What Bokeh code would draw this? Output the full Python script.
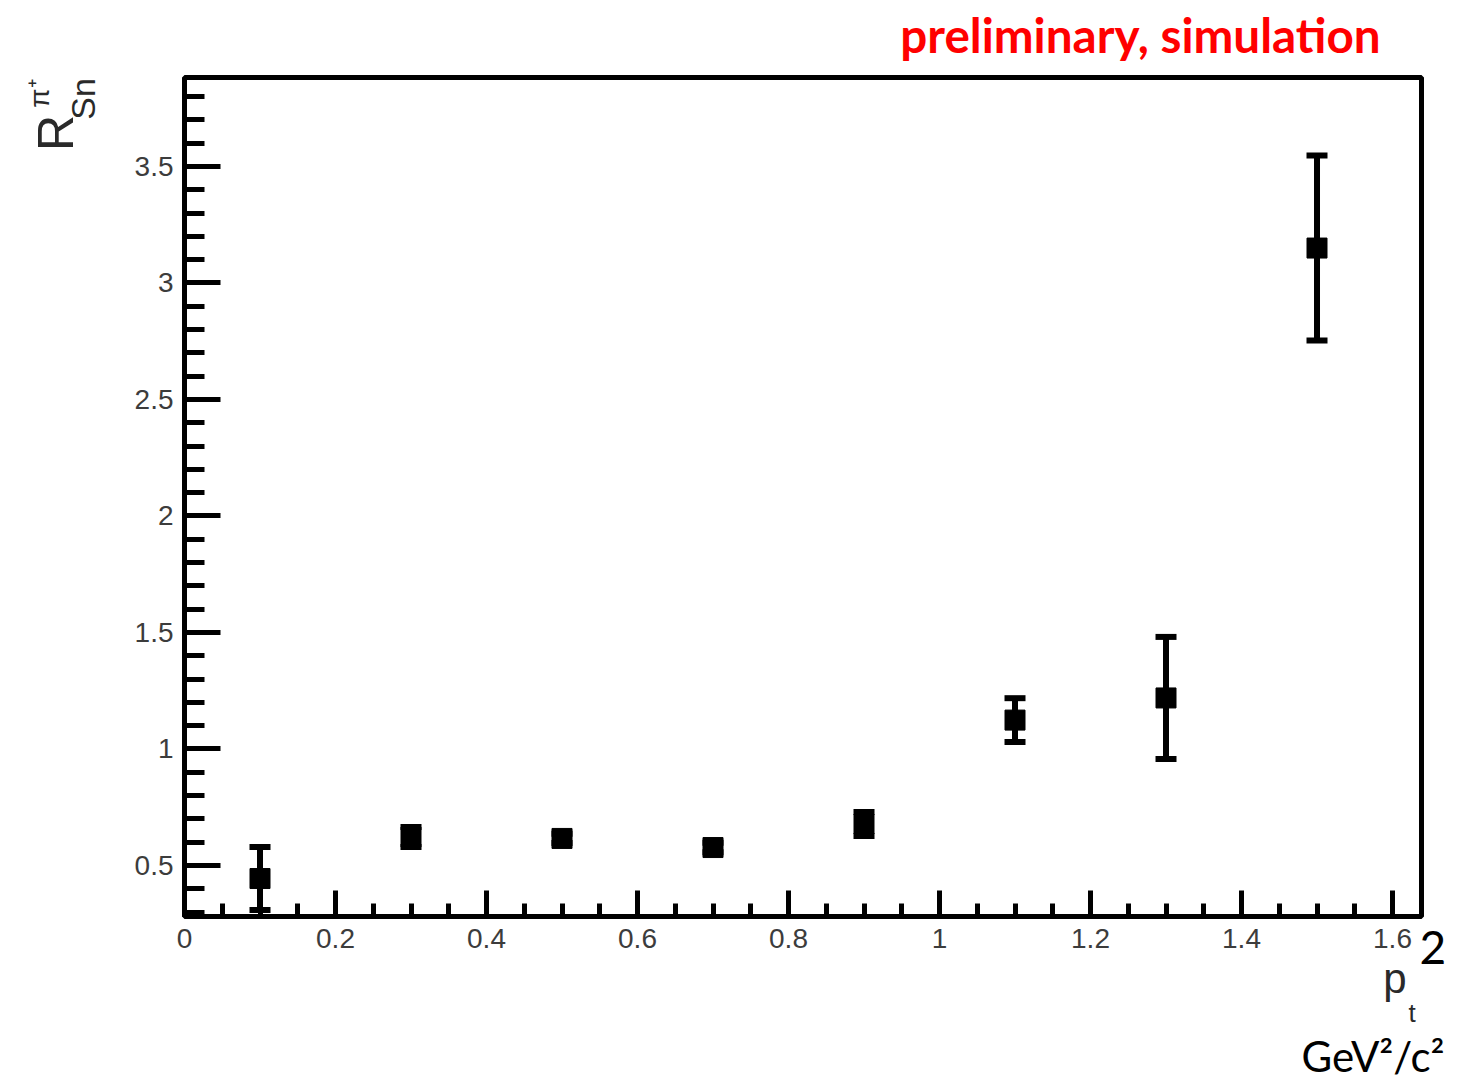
import json
from bokeh.plotting import figure
from bokeh.models import (ColumnDataSource, Range1d, SingleIntervalTicker, CustomJSTickFormatter,
                          Whisker, TeeHead, LinearAxis, FixedTicker)
from bokeh.embed import file_html
from bokeh.resources import INLINE

# ---- data ----
pt2 = [0.1, 0.3, 0.5, 0.7, 0.9, 1.1, 1.3, 1.5]
ratio = [0.444, 0.622, 0.616, 0.577, 0.678, 1.124, 1.219, 3.150]
err = [0.135, 0.043, 0.02, 0.02, 0.052, 0.094, 0.262, 0.397]

x_tick_interval = 0.2
y_tick_interval = 0.5

src = ColumnDataSource(dict(
    x=pt2, y=ratio,
    upper=[r + e for r, e in zip(ratio, err)],
    lower=[r - e for r, e in zip(ratio, err)],
))

FW, FH = 1237, 839
p = figure(frame_width=FW, frame_height=FH, output_backend="svg", toolbar_location=None,
           x_range=Range1d(0, 1.6384), y_range=Range1d(0.281, 3.882),
           min_border_left=184, min_border_right=54, min_border_top=77, min_border_bottom=160)
p.background_fill_color = "white"
p.border_fill_color = "white"
p.outline_line_color = "black"
p.outline_line_width = 5
p.grid.visible = False
p.title.text = ""

fmt = CustomJSTickFormatter(code="return Number(tick.toFixed(1)).toString();")
p.xaxis.ticker = SingleIntervalTicker(interval=x_tick_interval, num_minor_ticks=4)
p.yaxis.ticker = SingleIntervalTicker(interval=y_tick_interval, num_minor_ticks=5)
for ax in (p.xaxis[0], p.yaxis[0]):
    ax.formatter = fmt
    ax.axis_line_color = None
    ax.major_tick_line_color = "black"
    ax.minor_tick_line_color = "black"
    ax.major_tick_line_width = 5
    ax.minor_tick_line_width = 5
    ax.major_tick_out = 0
    ax.minor_tick_out = 0
    ax.major_label_text_font = "Liberation Sans"
    ax.major_label_text_font_size = "28px"
    ax.major_label_text_color = "#3c3c3c"
p.xaxis.major_tick_in = 26
p.xaxis.minor_tick_in = 13
p.xaxis.major_label_standoff = 12
p.yaxis.major_tick_in = 36
p.yaxis.minor_tick_in = 20
p.yaxis.major_label_standoff = 11

# error bars and markers
head_u = TeeHead(size=21, line_width=6, line_color="black")
head_l = TeeHead(size=21, line_width=6, line_color="black")
p.add_layout(Whisker(source=src, base="x", upper="upper", lower="lower",
                     line_width=6, line_color="black", upper_head=head_u, lower_head=head_l))
p.scatter("x", "y", source=src, marker="square", size=20, fill_color="black", line_color="black")

# ---- text placed as single-tick label axes (pixel-offset helper ranges) ----
p.extra_x_ranges = {"labx": Range1d(0, FW)}
p.extra_y_ranges = {"laby": Range1d(0, FH)}

def text_axis(side, text, pos, font, size, color, standoff, style="normal", orientation="horizontal"):
    kw = {}
    if side in ("below", "above"):
        kw["x_range_name"] = "labx"
    else:
        kw["y_range_name"] = "laby"
    ax = LinearAxis(ticker=FixedTicker(ticks=[pos]),
                    formatter=CustomJSTickFormatter(code="return %s;" % json.dumps(text)),
                    axis_line_color=None, major_tick_line_color=None, minor_tick_line_color=None,
                    major_tick_in=0, major_tick_out=0, minor_tick_in=0, minor_tick_out=0,
                    major_label_standoff=standoff, major_label_orientation=orientation,
                    major_label_text_font=font, major_label_text_font_size=size,
                    major_label_text_font_style=style, major_label_text_color=color, **kw)
    p.add_layout(ax, side)
    return ax

# red note above the frame (centre x = 1140 px)
text_axis("above", "preliminary, simulation", 1140 - 184, "Lato", "47.6px", "#ff0000", 15, style="bold")

# y-axis label  R^{pi+}_{Sn}  (rotated), stacked outward from the tick labels
text_axis("left", "Sn", 916 - 98.5, "Liberation Sans", "34px", "#2a2a2a", 30, orientation="vertical")
text_axis("left", "R", 916 - 132.5, "Liberation Sans", "50px", "#2a2a2a", -23, orientation="vertical")
text_axis("left", "π⁺", 916 - 93, "Liberation Sans", "28px", "#2a2a2a", -30, orientation="vertical")

# x-axis label  p_t 2  and units
text_axis("below", "\u00a0\u00a02", FW - 0.5, "Lato", "46px", "black", -32)
text_axis("below", "p", 1394.5 - 184, "Liberation Sans", "42px", "#2a2a2a", -22)
text_axis("below", "t", 1411.5 - 184, "Liberation Sans", "26px", "#2a2a2a", -7)
text_axis("below", "GeV²/c²", 1372.5 - 184, "Lato", "42px", "black", 0)

open("out.html", "w").write(file_html(p, INLINE))
